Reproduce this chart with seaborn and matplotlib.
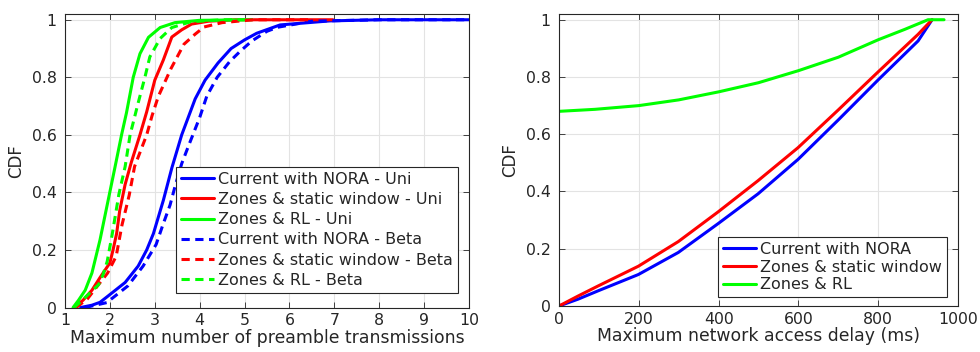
import numpy as np
import pandas as pd
import matplotlib
matplotlib.use("Agg")
import matplotlib.pyplot as plt
import seaborn as sns

# ---------------- data ----------------
# Left panel: CDF of maximum number of preamble transmissions
nora_uni_x = [1.35, 1.6, 1.78, 1.96, 2.34, 2.63, 2.82, 2.97, 3.19, 3.38, 3.6, 3.9, 4.12, 4.41, 4.7, 5.0, 5.27, 5.79, 6.9, 8.0, 10.0]
nora_uni_y = [0.0, 0.008, 0.018, 0.04, 0.087, 0.144, 0.2, 0.257, 0.372, 0.485, 0.6, 0.725, 0.79, 0.85, 0.9, 0.93, 0.953, 0.982, 0.996, 1.0, 1.0]

static_uni_x = [1.2, 1.4, 1.6, 1.78, 2.0, 2.07, 2.15, 2.22, 2.34, 2.48, 2.67, 2.82, 3.0, 3.19, 3.38, 3.6, 3.82, 4.2, 4.8, 6.97]
static_uni_y = [0.0, 0.025, 0.06, 0.104, 0.155, 0.2, 0.257, 0.338, 0.428, 0.506, 0.6, 0.68, 0.79, 0.86, 0.94, 0.965, 0.985, 0.995, 1.0, 1.0]

rl_uni_x = [1.18, 1.3, 1.45, 1.6, 1.78, 1.93, 2.11, 2.26, 2.37, 2.52, 2.67, 2.86, 3.12, 3.45, 4.0, 5.16]
rl_uni_y = [0.0, 0.025, 0.06, 0.12, 0.235, 0.349, 0.485, 0.6, 0.677, 0.8, 0.882, 0.939, 0.973, 0.99, 0.998, 1.0]

nora_beta_x = [1.45, 1.93, 2.4, 2.74, 3.03, 3.18, 3.34, 3.45, 3.6, 3.76, 4.0, 4.16, 4.39, 4.67, 4.9, 5.16, 5.5, 5.74, 6.5, 8.0, 10.0]
nora_beta_y = [0.0, 0.017, 0.075, 0.144, 0.219, 0.287, 0.356, 0.42, 0.5, 0.565, 0.66, 0.735, 0.8, 0.855, 0.89, 0.926, 0.96, 0.974, 0.995, 1.0, 1.0]

static_beta_x = [1.25, 1.5, 1.75, 1.95, 2.14, 2.27, 2.43, 2.55, 2.82, 2.94, 3.08, 3.36, 3.65, 3.9, 4.1, 4.5, 5.2, 6.5]
static_beta_y = [0.0, 0.03, 0.08, 0.12, 0.178, 0.287, 0.39, 0.49, 0.6, 0.667, 0.734, 0.83, 0.915, 0.95, 0.975, 0.99, 1.0, 1.0]

rl_beta_x = [1.2, 1.35, 1.55, 1.75, 1.85, 1.94, 2.05, 2.2, 2.34, 2.45, 2.63, 2.78, 2.89, 3.12, 3.38, 3.8, 4.5, 5.0]
rl_beta_y = [0.0, 0.02, 0.05, 0.08, 0.115, 0.16, 0.253, 0.393, 0.49, 0.6, 0.711, 0.8, 0.871, 0.935, 0.973, 0.993, 1.0, 1.0]

# Right panel: CDF of maximum network access delay (ms)
delay_ms = [0, 48, 98, 199, 299, 399, 499, 599, 700, 800, 900, 935]
nora_delay_cdf = [0.0, 0.024, 0.053, 0.11, 0.187, 0.288, 0.392, 0.512, 0.650, 0.790, 0.926, 1.0]
static_delay_cdf = [0.0, 0.035, 0.07, 0.139, 0.225, 0.329, 0.438, 0.553, 0.685, 0.818, 0.949, 1.0]

rl_delay_ms = [0, 90, 200, 300, 400, 500, 600, 700, 800, 866, 925, 965]
rl_delay_cdf = [0.68, 0.687, 0.700, 0.720, 0.748, 0.780, 0.822, 0.869, 0.930, 0.966, 1.0, 1.0]

left_labels = ["Current with NORA - Uni", "Zones & static window - Uni", "Zones & RL - Uni",
               "Current with NORA - Beta", "Zones & static window - Beta", "Zones & RL - Beta"]
right_labels = ["Current with NORA", "Zones & static window", "Zones & RL"]

left_xticks = [1, 2, 3, 4, 5, 6, 7, 8, 9, 10]
right_xticks = [0, 200, 400, 600, 800, 1000]
yticks = [0, 0.2, 0.4, 0.6, 0.8, 1]
ytick_labels = ["0", "0.2", "0.4", "0.6", "0.8", "1"]

# ---------------- style ----------------
sns.set_theme(style="white")
plt.rcParams["font.family"] = ["DejaVu Sans"]
plt.rcParams.update({
    "font.size": 11,
    "axes.edgecolor": "#262626",
    "axes.linewidth": 0.8,
    "xtick.direction": "in",
    "ytick.direction": "in",
    "xtick.top": True,
    "ytick.right": True,
    "xtick.bottom": True,
    "ytick.left": True,
    "xtick.major.size": 4,
    "ytick.major.size": 4,
    "xtick.major.width": 0.6,
    "ytick.major.width": 0.6,
    "xtick.color": "#262626",
    "ytick.color": "#262626",
    "xtick.labelcolor": "#262626",
    "ytick.labelcolor": "#262626",
    "axes.labelcolor": "#262626",
})

BLUE, RED, GREEN = "#0000ff", "#ff0000", "#00ff00"
LW = 2.2
DASH = (0, (2.7, 1.8))

fig = plt.figure(figsize=(9.8, 3.52), dpi=100)
B1, B2 = 307.5, 306.0
ax1 = fig.add_axes([65 / 980, 1 - B1 / 352, (469 - 65) / 980, (B1 - 14) / 352])
ax2 = fig.add_axes([559 / 980, 1 - B2 / 352, (958 - 559) / 980, (B2 - 14) / 352])


def draw(ax, x, y, color, label, ls="-"):
    sns.lineplot(x=x, y=y, ax=ax, color=color, lw=LW, linestyle=ls, label=label,
                 sort=False, estimator=None)


draw(ax1, nora_uni_x, nora_uni_y, BLUE, left_labels[0])
draw(ax1, static_uni_x, static_uni_y, RED, left_labels[1])
draw(ax1, rl_uni_x, rl_uni_y, GREEN, left_labels[2])
draw(ax1, nora_beta_x, nora_beta_y, BLUE, left_labels[3], DASH)
draw(ax1, static_beta_x, static_beta_y, RED, left_labels[4], DASH)
draw(ax1, rl_beta_x, rl_beta_y, GREEN, left_labels[5], DASH)

draw(ax2, delay_ms, nora_delay_cdf, BLUE, right_labels[0])
draw(ax2, delay_ms, static_delay_cdf, RED, right_labels[1])
draw(ax2, rl_delay_ms, rl_delay_cdf, GREEN, right_labels[2])

for ax in (ax1, ax2):
    ax.set_ylim(0, 1.02)
    ax.set_yticks(yticks)
    ax.set_yticklabels(ytick_labels)
    ax.grid(True, color="#e3e3e3", lw=0.8)
    ax.set_axisbelow(True)
    ax.tick_params(axis="y", labelsize=11.3, pad=6)
    ax.tick_params(axis="x", labelsize=11.3, pad=4)
    ax.set_ylabel("CDF", fontsize=12, labelpad=5)
    for s in ax.spines.values():
        s.set_visible(True)
        s.set_color("#262626")

ax1.set_xlim(1, 10)
ax1.set_xticks(left_xticks)
ax1.set_xlabel("Maximum number of preamble transmissions", fontsize=12.4, labelpad=0.5)
ax2.set_xlim(0, 1000)
ax2.set_xticks(right_xticks)
ax2.set_xlabel("Maximum network access delay (ms)", fontsize=12.4, labelpad=0.5)

leg_kw = dict(frameon=True, fancybox=False, framealpha=1, edgecolor="#262626",
              fontsize=11.5, handlelength=2.1, handletextpad=0.25,
              borderpad=0.3, borderaxespad=0, loc="lower right")
l1 = ax1.legend(bbox_to_anchor=(0.973, 0.05), labelspacing=0.33, **leg_kw)
l2 = ax2.legend(bbox_to_anchor=(0.972, 0.03), labelspacing=0.17, **leg_kw)
for l in (l1, l2):
    l.get_frame().set_linewidth(0.8)

fig.savefig("out.png", dpi=100)
